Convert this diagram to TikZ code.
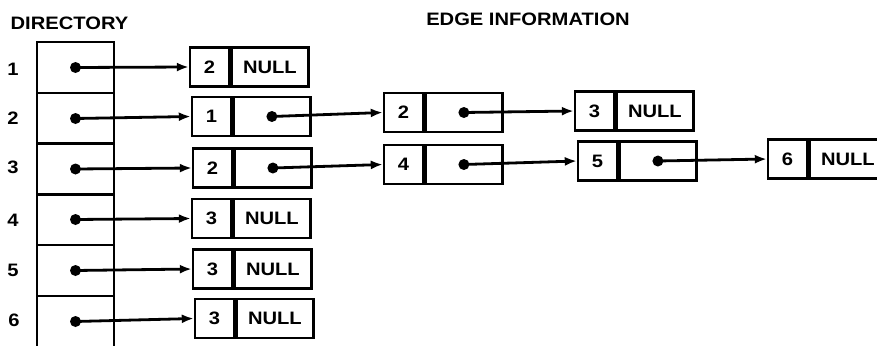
\documentclass[tikz,border=0pt]{standalone}
\usepackage{fontspec}
\setmainfont{Liberation Sans}[FakeStretch=1.12, BoldFeatures={FakeStretch=1.12}]
\usetikzlibrary{arrows.meta}
\begin{document}
\begin{tikzpicture}[x=1pt,y=-1pt,
 lbl/.style={font=\fontsize{18}{21}\selectfont\bfseries, inner sep=0},
 cell/.style={draw, line width=2.4pt, minimum height=39pt, inner sep=0, font=\fontsize{18}{21}\selectfont\bfseries},
 keycell/.style={cell, minimum width=39pt},
 ptrcell/.style={cell, minimum width=77pt, anchor=west},
 dircell/.style={draw, line width=2.4pt, minimum width=77pt, minimum height=51pt, inner sep=0},
 ptr/.style={line width=2.8pt, -{Latex[length=12pt,width=9pt]}},
 dot/.style={circle, fill, inner sep=0, minimum size=11pt}
]
\useasboundingbox (0,0) rectangle (877,345);

% titles
\node[lbl] (tdir) at (69.5,23) {DIRECTORY};
\node[lbl] (tedge) at (528,19) {EDGE INFORMATION};

% directory cells
\node[dircell] (d1) at (75.5,67.5) {};
\node[dircell] (d2) at (75.5,118.5) {};
\node[dircell] (d3) at (75.5,169) {};
\node[dircell] (d4) at (75.5,219.5) {};
\node[dircell] (d5) at (75.5,270.5) {};
\node[dircell] (d6) at (75.5,321.5) {};
\foreach \i in {1,...,6} {\node[dot] (dd\i) at (d\i.center) {};}

% row numbers
\node[lbl] (n1) at (13,69) {1};
\node[lbl] (n2) at (13,118) {2};
\node[lbl] (n3) at (13,167) {3};
\node[lbl] (n4) at (13,220) {4};
\node[lbl] (n5) at (13,270) {5};
\node[lbl] (n6) at (14,320) {6};

% second column
\node[keycell] (k1) at (209.5,67) {2};
\node[ptrcell] (p1) at (k1.east) {NULL};
\node[keycell] (k2) at (211.5,116.5) {1};
\node[ptrcell] (p2) at (k2.east) {};
\node[keycell] (k3) at (212.5,168) {2};
\node[ptrcell] (p3) at (k3.east) {};
\node[keycell] (k4) at (211.5,218.5) {3};
\node[ptrcell] (p4) at (k4.east) {NULL};
\node[keycell] (k5) at (212.5,269) {3};
\node[ptrcell] (p5) at (k5.east) {NULL};
\node[keycell] (k6) at (214.5,318.5) {3};
\node[ptrcell] (p6) at (k6.east) {NULL};

% third column
\node[keycell] (k2b) at (403.5,112.5) {2};
\node[ptrcell] (p2b) at (k2b.east) {};
\node[keycell] (k3b) at (403.5,164.5) {4};
\node[ptrcell] (p3b) at (k3b.east) {};

% fourth column
\node[keycell] (k2c) at (594.5,111) {3};
\node[ptrcell] (p2c) at (k2c.east) {NULL};
\node[keycell] (k3c) at (597.5,161) {5};
\node[ptrcell] (p3c) at (k3c.east) {};

% fifth column
\node[keycell] (k3d) at (787.5,159) {6};
\node[ptrcell] (p3d) at (k3d.east) {NULL};

% dots in pointer cells
\node[dot] (q2) at (p2.center) {};
\node[dot] (q3) at (p3.center) {};
\node[dot] (q2b) at (p2b.center) {};
\node[dot] (q3b) at (p3b.center) {};
\node[dot] (q3c) at (p3c.center) {};

% arrows
\foreach \i in {1,...,6} {\draw[ptr] (dd\i.center) -- (k\i.west);}
\draw[ptr] (q2.center) -- (k2b.west);
\draw[ptr] (q3.center) -- (k3b.west);
\draw[ptr] (q2b.center) -- (k2c.west);
\draw[ptr] (q3b.center) -- (k3c.west);
\draw[ptr] (q3c.center) -- (k3d.west);
\end{tikzpicture}
\end{document}
